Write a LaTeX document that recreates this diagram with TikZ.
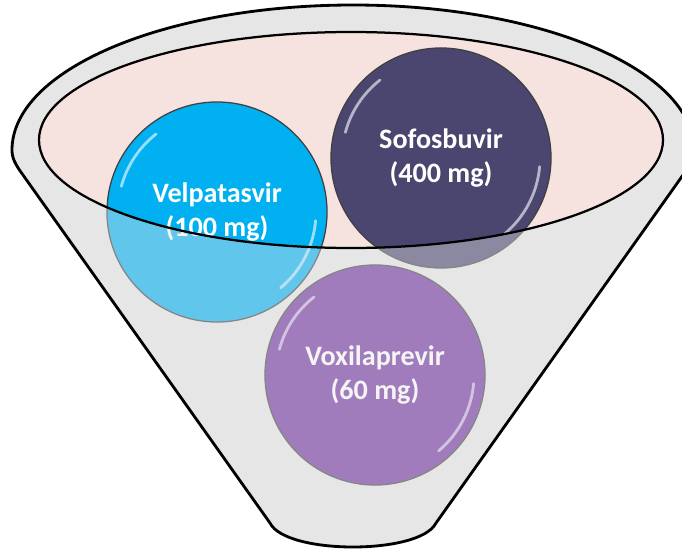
\documentclass[tikz,border=0pt]{standalone}
\usepackage{fontspec}
\setmainfont{Carlito}
\definecolor{funnelgrey}{RGB}{230,230,230}
\definecolor{rimpink}{RGB}{246,226,223}
\definecolor{velpablue}{RGB}{0,176,240}
\definecolor{sofosnavy}{RGB}{74,70,112}
\definecolor{voxipurple}{RGB}{112,48,160}

\begin{document}
\begin{tikzpicture}[x=0.025cm, y=-0.025cm,
    pill/.style={circle, minimum size=5.5cm, inner sep=0pt, draw=black!75, line width=0.9pt,
        text=white, align=center, font=\fontsize{20}{23.5}\selectfont\bfseries},
    gloss/.style={white, opacity=0.6, line width=2pt, line cap=round}]
    \useasboundingbox (0, 0) rectangle (682, 551);
    \def\funnel{(270, 523) -- (23, 175) .. controls (15, 164) and (12, 158) .. (12, 150)
        arc[start angle=180, end angle=360, x radius=341, y radius=145]
        .. controls (694, 158) and (691, 164) .. (683, 175) -- (436, 523)
        .. controls (420, 555) and (286, 555) .. (270, 523) -- cycle}
    \fill[funnelgrey] \funnel;
    \fill[rimpink] (351, 140) ellipse[x radius=312, y radius=108];
    \node[pill, fill=velpablue] (velpa) at (217, 212) {Velpatasvir\\(100 mg)};
    \node[pill, fill=sofosnavy] (sofos) at (441, 158) {Sofosbuvir\\(400 mg)};
    \node[pill, fill=voxipurple] (voxi) at (375, 375) {Voxilaprevir\\(60 mg)};
    \foreach \drug in {velpa, sofos, voxi} {
        \draw[gloss] ([shift={(195:99)}]\drug.center) arc[start angle=195, end angle=232, radius=99];
        \draw[gloss] ([shift={(5:99)}]\drug.center) arc[start angle=5, end angle=50, radius=99];
    }
    % front wall of the funnel
    \fill[funnelgrey, fill opacity=0.42, even odd rule] \funnel (351, 140) ellipse[x radius=312, y radius=108];
    \draw[line width=1.6pt] (351, 140) ellipse[x radius=312, y radius=108];
    \draw[line width=2pt] \funnel;
\end{tikzpicture}
\end{document}
